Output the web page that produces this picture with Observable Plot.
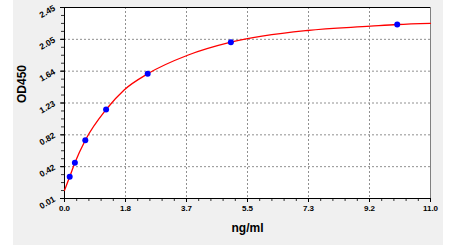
<!DOCTYPE html>
<html>
<head>
<meta charset="utf-8">
<script src="https://cdn.jsdelivr.net/npm/d3@7"></script>
<script src="https://cdn.jsdelivr.net/npm/@observablehq/plot@0.6"></script>
<style>
  html, body { margin: 0; padding: 0; background: #ffffff; }
</style>
</head>
<body>
<div id="chart"></div>
<script>
// Standard points (concentration ng/ml, OD450)
const stdConc = [0.156, 0.312, 0.625, 1.25, 2.5, 5, 10];
const stdOD = [0.287, 0.466, 0.755, 1.147, 1.603, 2.007, 2.233];

// Fitted curve
const curveX = [0, 0.156, 0.312, 0.625, 1.25, 1.8, 2.5, 3.7, 5, 7.3, 9.2, 10, 11];
const curveY = [0.115, 0.287, 0.466, 0.755, 1.147, 1.40, 1.603, 1.84, 2.007, 2.156, 2.211, 2.233, 2.248];

// Axis ticks and labels
const xTickValues = [0, 11/6, 22/6, 33/6, 44/6, 55/6, 11];
const xTickLabels = ["0.0", "1.8", "3.7", "5.5", "7.3", "9.2", "11.0"];
const yTickValues = [0.01, 0.01 + 2.44/6, 0.01 + 2*2.44/6, 0.01 + 3*2.44/6, 0.01 + 4*2.44/6, 0.01 + 5*2.44/6, 2.45];
const yTickLabels = ["0.01", "0.42", "0.82", "1.23", "1.64", "2.05", "2.45"];

const xMinor = d3.range(0, 31).map(i => i * 11 / 30);
const yMinor = d3.range(0, 25).map(i => 0.01 + i * 2.44 / 24);

const stdData = stdConc.map((c, i) => ({x: c, y: stdOD[i]}));
const curveData = curveX.map((c, i) => ({x: c, y: curveY[i]}));

const chart = Plot.plot({
  width: 465,
  height: 245,
  marginLeft: 64,
  marginRight: 35,
  marginTop: 7,
  marginBottom: 47,
  style: {
    background: "linear-gradient(to right, #ffffff 13px, #f0f0f0 13px, #f0f0f0 443px, #ffffff 443px)",
    fontFamily: "'Liberation Sans', Arial, sans-serif",
    fontSize: "8px",
    fontWeight: "bold",
    color: "#000"
  },
  x: {domain: [0, 11]},
  y: {domain: [0.01, 2.45]},
  marks: [
    Plot.frame({fill: "#ffffff", stroke: null}),
    Plot.gridX(xTickValues.slice(1, -1), {stroke: "#909090", strokeOpacity: 1, strokeDasharray: "2,2"}),
    Plot.gridY(yTickValues.slice(1, -1), {stroke: "#909090", strokeOpacity: 1, strokeDasharray: "2,2"}),
    Plot.axisX(xMinor, {tickSize: 3, tickFormat: () => "", stroke: "#333", label: null}),
    Plot.axisY(yMinor, {tickSize: 3, tickFormat: () => "", stroke: "#333", label: null}),
    Plot.axisX(xTickValues, {
      tickSize: 4, tickPadding: 3, stroke: "#000",
      tickFormat: (d, i) => xTickLabels[i], label: null, fontWeight: "bold", fontSize: 8
    }),
    Plot.axisY(yTickValues, {
      tickSize: 4, tickPadding: 6, stroke: "#000", tickRotate: -30,
      tickFormat: (d, i) => yTickLabels[i], label: null, fontWeight: "bold", fontSize: 8.5
    }),
    Plot.ruleX([11], {stroke: "#808080"}),
    Plot.ruleY([2.45], {stroke: "#000"}),
    Plot.ruleX([0], {stroke: "#000"}),
    Plot.ruleY([0.01], {stroke: "#000"}),
    Plot.line(curveData, {x: "x", y: "y", curve: "monotone-x", stroke: "#ff0000", strokeWidth: 1.3}),
    Plot.dot(stdData, {x: "x", y: "y", r: 3, fill: "#0000ff", stroke: null}),
    Plot.text(["ng/ml"], {frameAnchor: "bottom", dy: 33, fontSize: 12, fontWeight: "bold", fill: "#000"}),
    Plot.text(["OD450"], {frameAnchor: "left", dx: -42, rotate: -90, fontSize: 12, fontWeight: "bold", fill: "#000"})
  ]
});
document.getElementById("chart").appendChild(chart);
</script>
</body>
</html>
